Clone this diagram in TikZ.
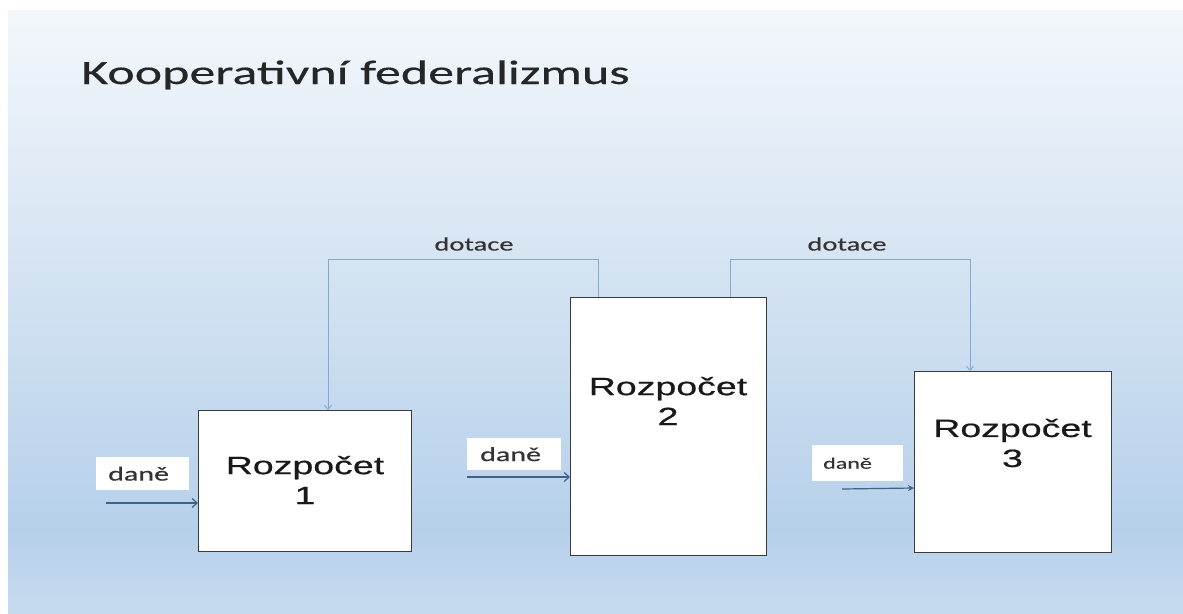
\documentclass[tikz,border=0pt]{standalone}
\usepackage{fontspec}
\usetikzlibrary{arrows.meta}
\newfontfamily\titlefont[FakeStretch=1.53,FakeBold=0.4]{Carlito}
\newfontfamily\lblfont[FakeStretch=1.5,FakeBold=0.5]{Carlito}
\newfontfamily\boxfont[FakeStretch=1.5,FakeBold=0.6]{Liberation Sans}
\definecolor{bgtop}{HTML}{F3F7FB}
\definecolor{bgmid}{HTML}{B6D0EA}
\definecolor{bgbot}{HTML}{C6DBEF}
\definecolor{taxcol}{HTML}{3F6188}
\definecolor{dotcol}{HTML}{86A7CF}
\definecolor{boxline}{HTML}{3A3A3A}
\tikzset{
  budget/.style={draw=boxline, line width=1.1pt, fill=white, rectangle, inner sep=0pt, anchor=north west},
  btext/.style={font=\boxfont\fontsize{25}{30}\selectfont, align=center, text=black!90, inner sep=0pt},
  danebox/.style={fill=white, rectangle, anchor=north west, inner ysep=0pt, inner xsep=12pt, align=left, text=black!80},
  taxarrow/.style={draw=taxcol, line width=1.2pt, -{Straight Barb[length=5pt,width=9pt]}},
  taxarrowf/.style={draw=taxcol, line width=1.2pt, -{Stealth[length=6pt,width=6pt]}},
  subsidy/.style={draw=dotcol, line width=0.9pt, -{Straight Barb[length=4pt,width=7pt]}},
  dotlbl/.style={font=\lblfont\fontsize{19}{22}\selectfont, text=black!80, inner sep=0pt}
}
\begin{document}
\begin{tikzpicture}[x=1pt, y=-1pt]
\useasboundingbox (0,0) rectangle (1183,613);
\fill[white] (0,0) rectangle (1183,613);
\shade[top color=bgtop, bottom color=bgmid] (8,10) rectangle (1183,530);
\shade[top color=bgmid, bottom color=bgbot] (8,529.5) rectangle (1183,613);

\node[anchor=base west, inner sep=0pt, font=\titlefont\fontsize{34}{40}\selectfont, text=black!85] (title) at (81,84) {Kooperativní federalizmus};

\node[budget, minimum width=213pt, minimum height=141pt] (b1) at (198,410) {};
\node[budget, minimum width=196pt, minimum height=258pt] (b2) at (570,297) {};
\node[budget, minimum width=197pt, minimum height=181pt] (b3) at (914,371) {};

\node[btext] (t1) at (305,480) {Rozpočet\\1};
\node[btext] (t2) at (668,401) {Rozpočet\\2};
\node[btext] (t3) at (1012.5,443) {Rozpočet\\3};

\node[danebox, minimum width=93pt, minimum height=33pt, text width=69pt, font=\lblfont\fontsize{20}{22}\selectfont] (d1) at (96,457) {daně};
\node[danebox, minimum width=93pt, minimum height=32pt, text width=68pt, font=\lblfont\fontsize{20}{22}\selectfont, inner xsep=13pt] (d2) at (467,438) {daně};
\node[danebox, minimum width=91pt, minimum height=36pt, text width=69pt, font=\lblfont\fontsize{16}{18}\selectfont, inner xsep=11pt] (d3) at (812,445) {daně};

\coordinate (a1) at (106,503);
\coordinate (a2) at (467,477);
\coordinate (a3) at (842,489);
\draw[taxarrow] (a1) -- (a1 -| b1.west);
\draw[taxarrow] (a2) -- (a2 -| b2.west);
\draw[taxarrowf] (a3) -- ([yshift=1pt]a3 -| b3.west);

\draw[subsidy] ([xshift=28pt]b2.north west) -- ++(0,-38) -| ([xshift=130pt]b1.north west);
\draw[subsidy] ([xshift=160pt]b2.north west) -- ++(0,-38) -| ([xshift=56pt]b3.north west);

\node[dotlbl] (l1) at (474,244) {dotace};
\node[dotlbl] (l2) at (847,244) {dotace};
\end{tikzpicture}
\end{document}
